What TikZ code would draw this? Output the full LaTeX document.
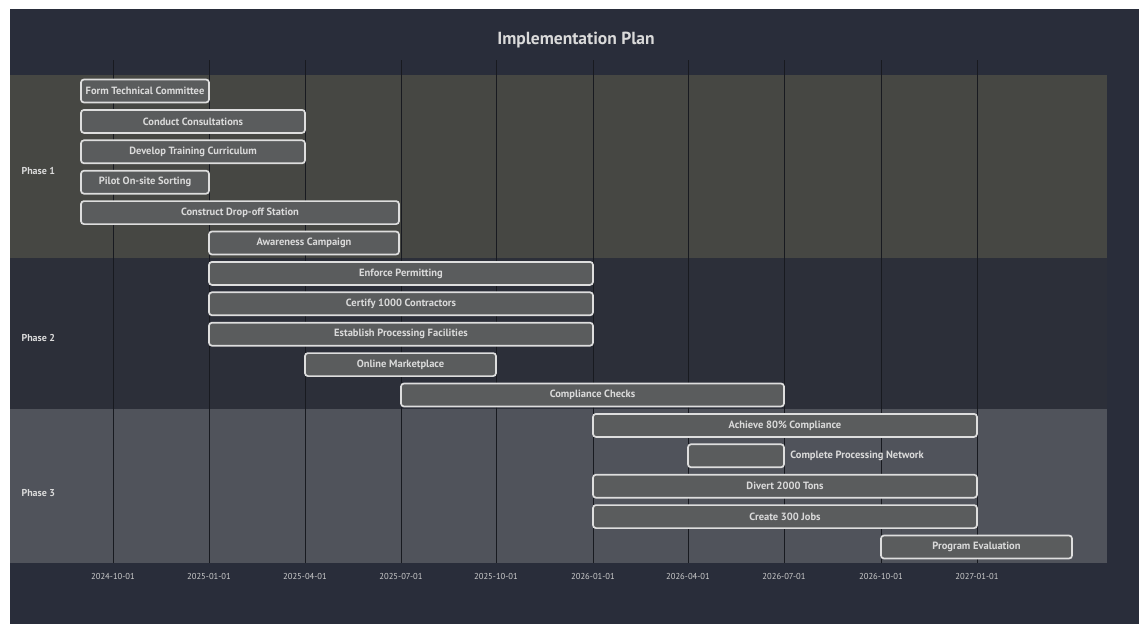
\documentclass[tikz,border=0pt]{standalone}
\usepackage{fontspec}
\setmainfont{PT Sans}
\usetikzlibrary{positioning}
\definecolor{pagebg}{RGB}{41,45,58}
\definecolor{phaseone}{RGB}{70,71,67}
\definecolor{phasetwo}{RGB}{44,47,57}
\definecolor{phasethree}{RGB}{80,83,91}
\definecolor{barfill}{RGB}{90,92,93}
\definecolor{barline}{RGB}{222,222,222}
\definecolor{gridline}{RGB}{24,26,32}
\definecolor{labeltext}{RGB}{218,218,218}
\tikzset{
x=1pt, y=-1pt, % one unit is one pixel of the chart, y runs downwards
task/.style={draw=barline, fill=barfill, line width=1.7pt, rounded corners=3pt,
  minimum height=23pt, inner sep=0pt, text=labeltext,
  font=\bfseries\fontsize{10.5}{12}\selectfont}, % a bar of the chart
outlabel/.style={text=labeltext, font=\bfseries\fontsize{10.5}{12}\selectfont, anchor=west},
phase/.style={text=labeltext, font=\bfseries\fontsize{10}{12}\selectfont, anchor=west},
datelabel/.style={text=labeltext!85!gray, font=\fontsize{8.6}{10}\selectfont},
gridrule/.style={draw=gridline, line width=0.7pt},
}

\begin{document}
\begin{tikzpicture}
\useasboundingbox (0,0) rectangle (1140,624);
\fill[white] (0,0) rectangle (1140,624);
\fill[pagebg] (10,9) rectangle (1139,624);

% phase bands
\fill[phaseone] (10,75) rectangle (1107,258);
\fill[phasetwo] (10,258) rectangle (1107,409);
\fill[phasethree] (10,409) rectangle (1107,563);

% time grid
\foreach \gx/\gd in {113/2024-10-01, 209/2025-01-01, 305/2025-04-01, 401/2025-07-01,
  496/2025-10-01, 593/2026-01-01, 688/2026-04-01, 784/2026-07-01, 881/2026-10-01, 977/2027-01-01}
{
  \coordinate (top\gx) at (\gx,60);
  \coordinate (bot\gx) at (\gx,563);
  \draw[gridrule] (top\gx) -- (bot\gx);
  \node[datelabel] (d\gx) at (\gx,576) {\gd};
}

\node[text=labeltext, font=\bfseries\fontsize{17.5}{20}\selectfont] (title) at (576,40) {Implementation Plan};

\node[phase] (p1) at (18,171) {Phase 1};
\node[phase] (p2) at (18,338) {Phase 2};
\node[phase] (p3) at (18,493) {Phase 3};

% phase 1
\node[task, minimum width=128] (ftc) at (145,91) {Form Technical Committee};
\node[task, minimum width=224] (cc) at (193,121.4) {Conduct Consultations};
\node[task, minimum width=224] (dtc) at (193,151.8) {Develop Training Curriculum};
\node[task, minimum width=128] (pos) at (145,182.2) {Pilot On-site Sorting};
\node[task, minimum width=318] (cds) at (240,212.6) {Construct Drop-off Station};
\node[task, minimum width=190] (ac) at (304,243) {Awareness Campaign};
% phase 2
\node[task, minimum width=384] (ep) at (401,273.4) {Enforce Permitting};
\node[task, minimum width=384] (ckt) at (401,303.8) {Certify 1000 Contractors};
\node[task, minimum width=384] (epf) at (401,334.2) {Establish Processing Facilities};
\node[task, minimum width=191] (om) at (400.5,364.6) {Online Marketplace};
\node[task, minimum width=383] (chk) at (592.5,395) {Compliance Checks};
% phase 3
\node[task, minimum width=384] (acp) at (785,425.4) {Achieve 80\% Compliance};
\node[task, minimum width=96] (cpn) at (736,455.8) {};
\node[outlabel, right=2pt of cpn] (cpnl) {Complete Processing Network};
\node[task, minimum width=384] (dtt) at (785,486.2) {Divert 2000 Tons};
\node[task, minimum width=384] (cjb) at (785,516.6) {Create 300 Jobs};
\node[task, minimum width=191] (pev) at (976.5,547) {Program Evaluation};
\end{tikzpicture}
\end{document}
